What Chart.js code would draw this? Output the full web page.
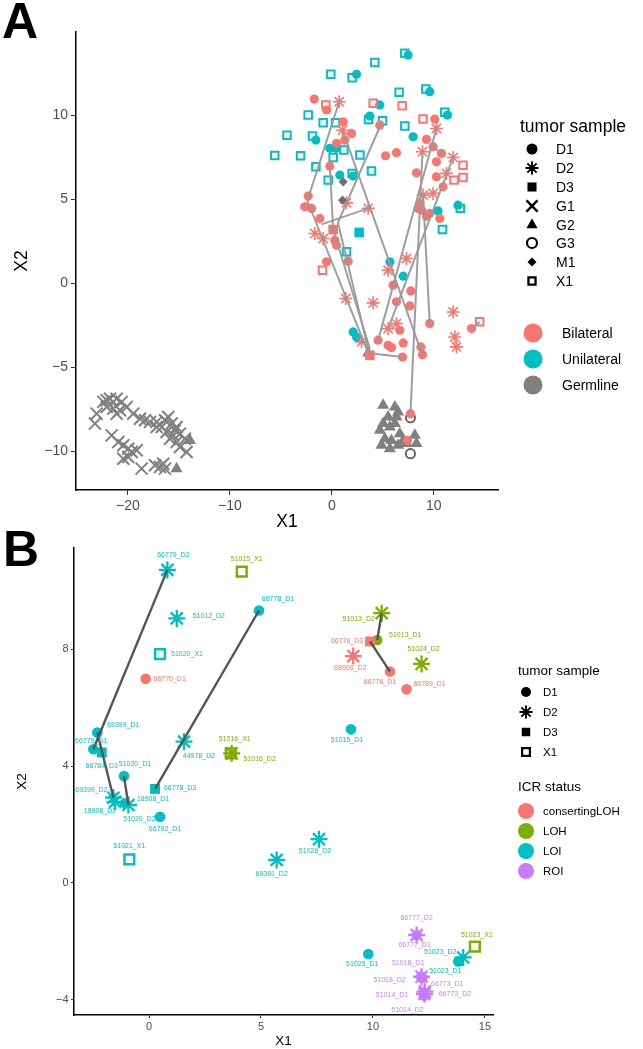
<!DOCTYPE html>
<html>
<head>
<meta charset="utf-8">
<script src="https://cdn.jsdelivr.net/npm/chart.js@4.4.1/dist/chart.umd.min.js"></script>
<style>
  html, body { margin: 0; padding: 0; background: #fff; }
  #page { position: relative; width: 643px; height: 1049px; overflow: hidden; }
  canvas { position: absolute; left: 0; }
</style>
</head>
<body>
<div id="page">
  <canvas id="chartA" width="643" height="540" style="top:0"></canvas>
  <canvas id="chartB" width="643" height="519" style="top:530px"></canvas>
</div>
<script>
const FONT = "'Liberation Sans', Arial, Helvetica, sans-serif";
const RED = '#F8766D', TEAL = '#00BFC4', GREY = '#808080', GREEN = '#7CAE00', PURPLE = '#C77CFF';

// ---------- Panel A data ----------
const sampleLevelsA = ['D1', 'D2', 'D3', 'G1', 'G2', 'G3', 'M1', 'X1'];
const groupLevelsA = ['Bilateral', 'Unilateral', 'Germline'];
const xTicksA = [-20, -10, 0, 10];
const yTicksA = [-10, -5, 0, 5, 10];

const bilD1 = [[-1.73,10.95],[-0.52,10.3],[1.11,9.6],[1.93,8.91],[1.27,8.51],[0.46,8.32],[5.26,7.58],[6.34,7.76],
  [8.3,6.57],[9.28,8.55],[10.1,9.76],[9.93,8.11],[10.75,7.72],[10.26,7.22],[10.26,6.33],[10.91,5.73],[-0.2,6.96],
  [-2.32,5.18],[-2.65,4.54],[-1.99,4.45],[-1.18,3.85],[4.7,9.4],[8.63,4.74],[8.79,4.35],[9.6,4.15],[10.59,3.85],
  [9.28,3.99],[8.46,4.45],[-0.52,1.27],[1.6,1.31],[0.29,2.56],[0.46,2.26],[6.01,-0.12],[7.75,-0.46],[6.34,-1.11],
  [7.65,-1.35],[6.67,-2.8],[7.0,-3.55],[5.52,-3.69],[5.85,-3.83],[4.54,-3.39],[6.93,-4.39],[8.73,-3.79],
  [8.89,-4.25],[9.6,-2.4],[13.7,-2.7],[7.71,-7.76],[7.42,-9.35]];
const bilD2 = [[0.72,10.79],[1.05,9.1],[10.26,9.2],[8.89,7.82],[11.9,7.48],[11.24,6.53],[9.93,5.34],[1.44,4.78],
  [3.56,4.45],[8.95,5.24],[-1.67,2.96],[-0.85,2.66],[1.37,-0.91],[4.05,-1.17],[5.52,0.77],[7.32,1.47],[6.34,-2.4],
  [5.52,-2.7],[11.9,-1.71],[12.06,-3.2],[12.22,-3.79],[2.91,-3.49]];
const bilD3 = [[0.13,3.19],[3.73,-4.29]];
const bilX1 = [[-0.59,10.6],[4.05,10.7],[6.9,10.56],[8.95,9.76],[12.87,7.02],[12.87,6.29],[11.99,6.13],[-0.92,0.77],[14.5,-2.3]];
const uniD1 = [[7.48,13.57],[2.42,12.42],[9.6,11.39],[4.7,10.6],[11.34,10.0],[3.73,9.94],[7.97,8.71],[-1.57,8.51],
  [-0.2,8.02],[0.39,8.02],[0.78,6.43],[2.09,6.37],[12.38,4.64],[10.42,4.3],[5.69,1.27],[7.0,0.42],[2.09,-2.9],[2.42,-3.2]];
const uniD3 = [[2.68,3.02]];
const uniX1 = [[7.16,13.67],[4.22,13.13],[-0.1,12.42],[1.99,12.22],[6.6,11.35],[9.22,11.55],[11.08,10.16],[-2.32,10.0],
  [-0.85,9.54],[0.36,9.54],[3.6,9.74],[4.97,9.66],[7.16,9.35],[-1.9,8.75],[-3.07,7.58],[1.18,7.92],[0.13,7.48],
  [2.75,7.62],[-1.57,6.92],[-0.36,6.13],[1.99,6.53],[3.89,6.67],[12.6,4.45],[1.44,1.87],[10.85,3.2],[-5.6,7.6],[-4.4,8.8]];
const germG1 = [[-23.07,-7.76],[-23.24,-8.35],[-22.42,-7.06],[-22.09,-6.96],[-21.76,-6.87],[-21.11,-6.87],[-20.62,-7.06],
  [-21.44,-7.46],[-20.78,-7.56],[-20.13,-7.36],[-22.09,-7.36],[-21.11,-7.76],[-19.48,-7.76],[-18.82,-8.06],[-18.33,-8.15],
  [-17.84,-8.25],[-17.19,-8.25],[-16.7,-8.55],[-16.05,-7.96],[-15.72,-8.35],[-15.23,-8.55],[-16.21,-8.85],[-15.56,-9.05],
  [-14.9,-8.95],[-14.41,-9.25],[-15.23,-9.45],[-14.9,-9.74],[-14.25,-10.04],[-15.88,-9.25],[-21.6,-9.05],[-20.95,-9.45],
  [-20.46,-9.64],[-19.97,-9.84],[-19.64,-10.04],[-19.15,-9.94],[-20.46,-10.44],[-19.97,-10.34],[-18.66,-11.03],
  [-17.35,-10.83],[-16.86,-10.93],[-16.37,-11.03],[-16.54,-10.74],[-17.19,-8.55],[-16.37,-8.15],[-15.4,-8.75]];
const germG2 = [[-13.92,-9.35],[-15.23,-11.03],[3.56,-4.15],[5.03,-7.26],[6.18,-7.36],[6.5,-7.66],[5.52,-7.96],[6.34,-7.96],
  [5.03,-8.35],[6.18,-8.35],[5.69,-8.55],[4.71,-8.75],[6.67,-8.95],[5.2,-9.25],[5.85,-9.35],[7.0,-9.35],[8.14,-9.05],
  [8.3,-9.54],[4.87,-9.64],[5.69,-9.84],[6.5,-9.64],[7.32,-9.54]];
const germG3 = [[7.71,-8.0],[7.71,-10.14]];
const germM1 = [[1.11,6.03],[1.05,4.94]];
// grey paths joining samples of one patient
const aLinks = [
  [[0.72,10.79],[-2.4,4.9],[3.6,-4.2]],
  [[1.05,9.1],[8.9,-4.3]],
  [[4.97,9.66],[0.6,3.6],[3.6,-4.0]],
  [[-0.2,6.96],[0.13,3.19],[3.73,-3.9]],
  [[10.26,9.2],[4.54,-3.39]],
  [[11.9,7.48],[5.52,-2.7]],
  [[8.89,7.82],[7.71,-7.76]],
  [[8.95,5.24],[9.6,-2.4]],
  [[-1.0,3.5],[3.56,4.45]],
  [[3.6,-4.15],[6.93,-4.39]],
  [[13.7,-2.7],[14.5,-2.3]],
  [[9.93,8.11],[10.75,7.72]]
];

// ---------- Panel B data ----------
const sampleLevelsB = ['D1', 'D2', 'D3', 'X1'];
const statusLevelsB = ['consertingLOH', 'LOH', 'LOI', 'ROI'];
const xTicksB = [0, 5, 10, 15];
const yTicksB = [-4, 0, 4, 8];

const bNames = ['66779_D2','51015_X1','66778_D1','51012_D2','51020_X1','66770_D1','69399_D1','66779_D1','66784_D3',
  '44978_D2','51016_X1','51016_D2','51020_D1','66778_D3','69399_D2','18908_D1','18908_D2','51020_D2','66792_D1',
  '51021_X1','69391_D2','51015_D1','51026_D2','51013_D2','51013_D1','66776_D3','68906_D2','66776_D1','66789_D1',
  '51024_D2','51025_D1','51023_X1','51023_D2','51023_D1','66777_D1','66777_D2','51018_D1','51018_D2','66773_D1',
  '66773_D2','51014_D1','51014_D2'];
const bX = [0.82,4.14,4.91,1.24,0.49,-0.15,-2.31,-2.49,-2.11,1.56,3.65,3.69,-1.12,0.27,-1.59,-1.07,-1.52,-0.92,0.49,
  -0.88,5.7,9.02,7.59,10.39,10.19,9.87,9.12,10.76,11.5,12.17,9.79,14.55,14.03,13.81,11.95,11.95,12.15,12.17,12.2,
  12.32,12.28,12.3];
const bY = [10.72,10.66,9.33,9.06,7.84,6.99,5.15,4.58,4.47,4.84,4.44,4.44,3.66,3.22,2.92,2.73,2.78,2.67,2.27,0.81,
  0.79,5.26,1.5,9.24,8.32,8.27,7.77,7.24,6.63,7.5,-2.43,-2.18,-2.55,-2.69,-1.78,-1.78,-3.2,-3.21,-3.25,-3.72,-3.85,-3.8];
const bStatus = ['LOI','LOH','LOI','LOI','LOI','consertingLOH','LOI','LOI','LOI','LOI','LOH','LOH','LOI','LOI','LOI',
  'LOI','LOI','LOI','LOI','LOI','LOI','LOI','LOI','LOH','LOH','consertingLOH','consertingLOH','consertingLOH',
  'consertingLOH','LOH','LOI','LOH','LOI','LOI','ROI','ROI','ROI','ROI','ROI','ROI','ROI','ROI'];
const bLinks = [['66779_D2','66779_D1'],['66778_D1','66778_D3'],['69399_D1','69399_D2'],
  ['51020_D1','51020_D2'],['51013_D2','51013_D1'],['66776_D3','66776_D1']];

// ---------- styles ----------
const statusColor = { consertingLOH: RED, LOH: GREEN, LOI: TEAL, ROI: PURPLE };
const groupColor = { Bilateral: RED, Unilateral: TEAL, Germline: GREY };

const shapeA = {
  D1: { pointStyle: 'circle', radius: 4.6, fill: true, borderWidth: 0 },
  D2: { pointStyle: 'star', radius: 6.5, fill: false, borderWidth: 1.6 },
  D3: { pointStyle: 'rect', radius: 6.8, fill: true, borderWidth: 0 },
  G1: { pointStyle: 'crossRot', radius: 8.5, fill: false, borderWidth: 2 },
  G2: { pointStyle: 'triangle', radius: 7, fill: true, borderWidth: 0 },
  G3: { pointStyle: 'circle', radius: 4.6, fill: false, borderWidth: 2 },
  M1: { pointStyle: 'rectRot', radius: 4.6, fill: true, borderWidth: 0 },
  X1: { pointStyle: 'rect', radius: 5.3, fill: false, borderWidth: 2 }
};
const shapeB = {
  D1: { pointStyle: 'circle', radius: 5.3, fill: true, borderWidth: 0 },
  D2: { pointStyle: 'star', radius: 8.5, fill: false, borderWidth: 2.3 },
  D3: { pointStyle: 'rect', radius: 7, fill: true, borderWidth: 0 },
  X1: { pointStyle: 'rect', radius: 6.9, fill: false, borderWidth: 2.5 }
};
const legendShapeA = {
  D1: { pointStyle: 'circle', radius: 5.5, fill: true, borderWidth: 0 },
  D2: { pointStyle: 'star', radius: 6.5, fill: false, borderWidth: 2 },
  D3: { pointStyle: 'rect', radius: 6.4, fill: true, borderWidth: 0 },
  G1: { pointStyle: 'crossRot', radius: 7.8, fill: false, borderWidth: 2.5 },
  G2: { pointStyle: 'triangle', radius: 6.5, fill: true, borderWidth: 0 },
  G3: { pointStyle: 'circle', radius: 5, fill: false, borderWidth: 2.2 },
  M1: { pointStyle: 'rectRot', radius: 4.5, fill: true, borderWidth: 0 },
  X1: { pointStyle: 'rect', radius: 5, fill: false, borderWidth: 2.3 }
};
const legendShapeB = {
  D1: { pointStyle: 'circle', radius: 5, fill: true, borderWidth: 0 },
  D2: { pointStyle: 'star', radius: 6.5, fill: false, borderWidth: 2 },
  D3: { pointStyle: 'rect', radius: 6, fill: true, borderWidth: 0 },
  X1: { pointStyle: 'rect', radius: 5.5, fill: false, borderWidth: 2.2 }
};
// where each ggrepel-like label sits relative to its point (px)
const labelNudge = {
  '66779_D2':[6,-15],'51015_X1':[5,-13],'66778_D1':[19,-11],'51012_D2':[32,-2],'51020_X1':[27,0],'66770_D1':[24,0],
  '69399_D1':[26,-8],'66779_D1':[-2,-8],'66784_D3':[0,14],'44978_D2':[15,14],'51016_X1':[4,-14],'51016_D2':[28,6],
  '51020_D1':[11,-12],'66778_D3':[25,-1],'69399_D2':[-22,-8],'18908_D1':[28,-4],'18908_D2':[-15,9],'51020_D2':[11,14],
  '66792_D1':[5,12],'51021_X1':[0,-13],'69391_D2':[-5,14],'51015_D1':[-4,11],'51026_D2':[-4,12],'51013_D2':[-23,6],
  '51013_D1':[28,-5],'66776_D3':[-23,0],'68906_D2':[-3,12],'66776_D1':[-10,11],'66789_D1':[23,-5],'51024_D2':[2,-15],
  '51025_D1':[-6,10],'51023_X1':[2,-12],'51023_D2':[-23,-5],'51023_D1':[-13,10],'66777_D1':[-2,10],'66777_D2':[0,-17],
  '51018_D1':[-13,-13],'51018_D2':[-32,3],'66773_D1':[25,6],'66773_D2':[30,2],'51014_D1':[-32,0],'51014_D2':[-17,16]
};

const fmt = v => (v < 0 ? '\u2212' + Math.abs(v) : String(v));
const pts = arr => arr.map(p => ({ x: p[0], y: p[1] }));

function pointSet(data, shape, color, order) {
  return {
    type: 'scatter', data, order, showLine: false,
    pointStyle: shape.pointStyle, pointRadius: shape.radius, pointHoverRadius: shape.radius,
    pointBorderWidth: shape.borderWidth,
    pointBackgroundColor: shape.fill ? color : 'rgba(0,0,0,0)',
    pointBorderColor: color
  };
}
function lineSet(data, color, width) {
  return { type: 'scatter', data, order: 0, showLine: true, borderColor: color, borderWidth: width, pointRadius: 0, fill: false };
}

function drawSymbol(ctx, shape, x, y, color) {
  ctx.save();
  ctx.fillStyle = shape.fill ? color : 'rgba(0,0,0,0)';
  ctx.strokeStyle = color;
  ctx.lineWidth = shape.borderWidth;
  Chart.helpers.drawPoint(ctx, { pointStyle: shape.pointStyle, radius: shape.radius, rotation: 0, borderWidth: shape.borderWidth }, x, y);
  ctx.restore();
}

function axes(o) {
  const tickFont = { family: FONT, size: o.tick };
  const titleFont = { family: FONT, size: o.title };
  return {
    x: {
      type: 'linear', min: o.xmin, max: o.xmax,
      afterBuildTicks: s => { s.ticks = o.xticks.map(v => ({ value: v })); },
      afterFit: s => { s.height = o.xh; },
      ticks: { font: tickFont, color: '#4d4d4d', padding: o.tpad, autoSkip: false, maxRotation: 0, callback: v => fmt(v) },
      grid: { drawOnChartArea: false, drawTicks: true, tickLength: o.tlen, tickColor: '#333', tickWidth: 1 },
      border: { display: true, color: '#000', width: 1.5 },
      title: { display: true, text: 'X1', font: titleFont, color: '#000', padding: { top: 0, bottom: o.xtpad } }
    },
    y: {
      type: 'linear', min: o.ymin, max: o.ymax,
      afterBuildTicks: s => { s.ticks = o.yticks.map(v => ({ value: v })); },
      afterFit: s => { s.width = o.yw; },
      ticks: { font: tickFont, color: '#4d4d4d', padding: o.tpad, autoSkip: false, callback: v => fmt(v) },
      grid: { drawOnChartArea: false, drawTicks: true, tickLength: o.tlen, tickColor: '#333', tickWidth: 1 },
      border: { display: true, color: '#000', width: 1.5 },
      title: { display: true, text: 'X2', font: titleFont, color: '#000', padding: { top: o.ytpad, bottom: 0 } }
    }
  };
}

// ---------- Panel A ----------
const dsA = [];
aLinks.forEach(p => dsA.push(lineSet(pts(p), 'rgba(153,153,153,0.95)', 2)));
dsA.push(pointSet(pts(germM1), shapeA.M1, '#6e6e6e', 1));
dsA.push(pointSet(pts(bilD1), shapeA.D1, RED, 2));
dsA.push(pointSet(pts(bilD2), shapeA.D2, RED, 2));
dsA.push(pointSet(pts(bilD3), shapeA.D3, RED, 2));
dsA.push(pointSet(pts(bilX1), shapeA.X1, RED, 2));
dsA.push(pointSet(pts(uniD1), shapeA.D1, TEAL, 3));
dsA.push(pointSet(pts(uniD3), shapeA.D3, TEAL, 3));
dsA.push(pointSet(pts(uniX1), shapeA.X1, TEAL, 3));
dsA.push(pointSet(pts(germG1), shapeA.G1, GREY, 4));
dsA.push(pointSet(pts(germG2), shapeA.G2, GREY, 4));
dsA.push(pointSet(pts(germG3), shapeA.G3, '#666', 4));

const legendA = {
  id: 'legendA',
  afterDraw(chart) {
    const ctx = chart.ctx;
    ctx.save();
    ctx.fillStyle = '#000';
    ctx.font = `bold 50px ${FONT}`;
    ctx.textBaseline = 'alphabetic';
    ctx.fillText('A', 2, 38);
    ctx.textBaseline = 'middle';
    ctx.font = `17.5px ${FONT}`;
    ctx.fillText('tumor sample', 520, 127);
    const rows = [149, 168, 187, 206, 225, 243, 262, 281];
    ctx.font = `14px ${FONT}`;
    sampleLevelsA.forEach((s, i) => {
      drawSymbol(ctx, legendShapeA[s], 532, rows[i], '#000');
      ctx.fillStyle = '#000';
      ctx.fillText(s, 556, rows[i] + 1);
    });
    const crow = [333, 359, 385];
    groupLevelsA.forEach((g, i) => {
      ctx.fillStyle = groupColor[g];
      ctx.beginPath(); ctx.arc(533, crow[i], 9.5, 0, Math.PI * 2); ctx.fill();
      ctx.fillStyle = '#000';
      ctx.fillText(g, 562, crow[i] + 1);
    });
    ctx.restore();
  }
};

new Chart(document.getElementById('chartA'), {
  type: 'scatter',
  data: { datasets: dsA },
  options: {
    responsive: false, animation: false, events: [],
    layout: { padding: { left: 0, top: 32, right: 145, bottom: 0 }, autoPadding: false },
    plugins: { legend: { display: false }, tooltip: { enabled: false } },
    scales: axes({ xmin: -25.1, xmax: 16.3, ymin: -12.3, ymax: 14.94, xticks: xTicksA, yticks: yTicksA,
      tick: 14, title: 17.5, xh: 50, yw: 76, tpad: 3, tlen: 5, xtpad: 7.5, ytpad: 11.5 })
  },
  plugins: [legendA]
});

// ---------- Panel B ----------
const idx = {};
bNames.forEach((n, i) => { idx[n] = i; });
const sampleOf = n => n.split('_')[1];

const dsB = [];
bLinks.forEach(([a, b]) => dsB.push(lineSet([{ x: bX[idx[a]], y: bY[idx[a]] }, { x: bX[idx[b]], y: bY[idx[b]] }], '#555', 2.4)));
statusLevelsB.forEach((st, si) => {
  sampleLevelsB.forEach(sm => {
    const data = [];
    bNames.forEach((n, i) => { if (bStatus[i] === st && sampleOf(n) === sm) data.push({ x: bX[i], y: bY[i] }); });
    if (data.length) dsB.push(pointSet(data, shapeB[sm], statusColor[st], 1 + si));
  });
});

const labelsB = {
  id: 'labelsB',
  afterDatasetsDraw(chart) {
    const { ctx, scales: { x, y } } = chart;
    ctx.save();
    ctx.font = `7px ${FONT}`;
    ctx.textAlign = 'center';
    ctx.textBaseline = 'middle';
    bNames.forEach((n, i) => {
      const off = labelNudge[n] || [0, -12];
      ctx.fillStyle = statusColor[bStatus[i]];
      ctx.fillText(n, x.getPixelForValue(bX[i]) + off[0], y.getPixelForValue(bY[i]) + off[1]);
    });
    ctx.restore();
  },
  afterDraw(chart) {
    const ctx = chart.ctx;
    const top = 530; // canvas offset on the page
    ctx.save();
    ctx.fillStyle = '#000';
    ctx.font = `bold 50px ${FONT}`;
    ctx.textBaseline = 'alphabetic';
    ctx.fillText('B', 3, 566 - top);
    ctx.textBaseline = 'middle';
    ctx.font = `13.5px ${FONT}`;
    ctx.fillText('tumor sample', 518, 671 - top);
    ctx.fillText('ICR status', 518, 787 - top);
    ctx.font = `11.5px ${FONT}`;
    const rows = [692, 712, 732, 752];
    sampleLevelsB.forEach((s, i) => {
      drawSymbol(ctx, legendShapeB[s], 526, rows[i] - top, '#000');
      ctx.fillStyle = '#000';
      ctx.fillText(s, 543, rows[i] - top + 1);
    });
    const crow = [811, 831, 851, 871];
    statusLevelsB.forEach((st, i) => {
      ctx.fillStyle = statusColor[st];
      ctx.beginPath(); ctx.arc(526, crow[i] - top, 8, 0, Math.PI * 2); ctx.fill();
      ctx.fillStyle = '#000';
      ctx.fillText(st, 543, crow[i] - top + 1);
    });
    ctx.restore();
  }
};

new Chart(document.getElementById('chartB'), {
  type: 'scatter',
  data: { datasets: dsB },
  options: {
    responsive: false, animation: false, events: [],
    layout: { padding: { left: 0, top: 18, right: 150, bottom: 0 }, autoPadding: false },
    plugins: { legend: { display: false }, tooltip: { enabled: false } },
    scales: axes({ xmin: -3.35, xmax: 15.36, ymin: -4.52, ymax: 11.47, xticks: xTicksB, yticks: yTicksB,
      tick: 11, title: 13.5, xh: 34, yw: 74, tpad: 2.5, tlen: 3, xtpad: 0, ytpad: 13.9 })
  },
  plugins: [labelsB]
});
</script>
</body>
</html>
